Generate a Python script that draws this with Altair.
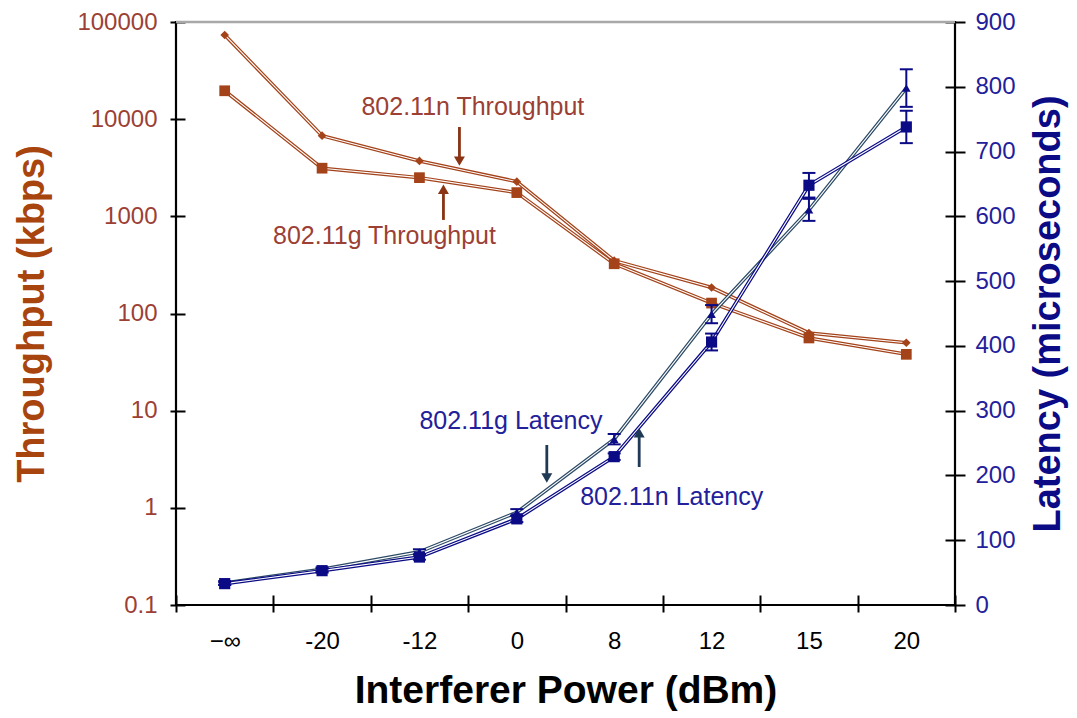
import altair as alt
import pandas as pd

# ---- data ----
categories = ["−∞", "-20", "-12", "0", "8", "12", "15", "20"]
thr_n = [73500, 6760, 3715, 2275, 350, 185, 63, 50]
thr_g = [19600, 3130, 2500, 1755, 325, 128, 56, 38]
lat_g = [34, 55, 82, 143, 256, 449, 610, 798]
lat_g_err = [3, 3, 4, 5, 8, 14, 17, 29]
lat_n = [33, 53, 74, 133, 229, 406, 648, 738]
lat_n_err = [2, 3, 4, 5, 5, 13, 19, 25]

# annotation texts (category, offset, value)
thr_labels = ["802.11n Throughput", "802.11g Throughput"]
thr_label_cat = ["-12", "-20"]
thr_label_dx = [-58, -49]
thr_label_val = [13350, 628]
lat_labels = ["802.11g Latency", "802.11n Latency"]
lat_label_cat = ["-12", "8"]
lat_label_dx = [0, -34]
lat_label_val = [284, 167]

# arrows: category, pixel offset, tail value, head value
thr_arrow_cat = ["-12", "-12"]
thr_arrow_off = [40, 24]
thr_arrow_tail = [8300, 918]
thr_arrow_head = [3700, 1900]
lat_arrow_cat = ["0", "8"]
lat_arrow_off = [30, 25]
lat_arrow_tail = [247, 213]
lat_arrow_head = [196, 266]

W, H = 779, 583
BROWN = "#A4431A"
BROWN_TXT = "#9C3F35"
NAVY = "#0B0B86"
SLATE = "#2C4A66"
NAVY_TXT = "#22209A"

thr_df = pd.DataFrame({
    "cat": categories * 2,
    "thr": thr_n + thr_g,
    "s": ["n"] * 8 + ["g"] * 8,
})
thr_n_df = thr_df[thr_df.s == "n"]
thr_g_df = thr_df[thr_df.s == "g"]

lat_df = pd.DataFrame({
    "cat": categories * 2,
    "lat": lat_g + lat_n,
    "lo": [v - e for v, e in zip(lat_g, lat_g_err)] + [v - e for v, e in zip(lat_n, lat_n_err)],
    "hi": [v + e for v, e in zip(lat_g, lat_g_err)] + [v + e for v, e in zip(lat_n, lat_n_err)],
    "s": ["g"] * 8 + ["n"] * 8,
})
lat_g_df = lat_df[lat_df.s == "g"]
lat_n_df = lat_df[lat_df.s == "n"]

thr_lab_df = pd.DataFrame({"cat": thr_label_cat, "thr": thr_label_val, "t": thr_labels, "dx": thr_label_dx})
lat_lab_df = pd.DataFrame({"cat": lat_label_cat, "lat": lat_label_val, "t": lat_labels, "dx": lat_label_dx})

xscale = alt.Scale(type="band", domain=categories, paddingInner=0, paddingOuter=0)
xaxis = alt.Axis(
    title="Interferer Power (dBm)", titleFontSize=39, titleFontWeight="bold", titleColor="black",
    titlePadding=18, labelFontSize=24, labelColor="black", labelAngle=0, labelPadding=17,
    domain=False, ticks=True, tickBand="extent", tickColor="black", tickWidth=2,
    tickSize=17, offset=-10, grid=False,
)
X = alt.X("cat:N", scale=xscale, axis=xaxis, sort=categories)

yscale_thr = alt.Scale(type="log", domain=[0.1, 100000], nice=False)
yaxis_thr = alt.Axis(
    title="Throughput (kbps)", titleFontSize=38, titleFontWeight="bold", titleColor="#A8450E",
    titlePadding=25, labelFontSize=24, labelColor=BROWN_TXT, labelPadding=13,
    values=[0.1, 1, 10, 100, 1000, 10000, 100000], format="~g",
    domain=False, tickColor="black", tickWidth=2, tickSize=15, offset=-9, grid=False, orient="left",
)
YT = alt.Y("thr:Q", scale=yscale_thr, axis=yaxis_thr)

yscale_lat = alt.Scale(domain=[0, 900], nice=False)
yaxis_lat = alt.Axis(
    title="Latency (microseconds)", titleFontSize=38, titleFontWeight="bold", titleColor=NAVY,
    titleAngle=270, titleBaseline="top", titlePadding=14,
    labelFontSize=24, labelColor=NAVY_TXT, labelPadding=10,
    values=list(range(0, 901, 100)),
    domain=False, tickColor="black", tickWidth=2, tickSize=20, offset=-10, grid=False, orient="right",
)
YL = alt.Y("lat:Q", scale=yscale_lat, axis=yaxis_lat)


def double_line(df, color, yenc):
    base = alt.Chart(df)
    outer = base.mark_line(color=color, strokeWidth=3.6).encode(x=X, y=yenc)
    inner = base.mark_line(color="white", strokeWidth=1.1).encode(x=X, y=yenc)
    return outer, inner


# throughput layers
tn_o, tn_i = double_line(thr_n_df, BROWN, YT)
tg_o, tg_i = double_line(thr_g_df, BROWN, YT)
tn_pts = alt.Chart(thr_n_df).mark_point(shape="diamond", filled=True, size=75, color=BROWN, opacity=1).encode(x=X, y=YT)
tg_pts = alt.Chart(thr_g_df).mark_point(shape="square", filled=True, size=115, color=BROWN, opacity=1).encode(x=X, y=YT)

thr_text_layers = []
for i in range(len(thr_labels)):
    thr_text_layers.append(
        alt.Chart(thr_lab_df.iloc[[i]]).mark_text(
            align="left", baseline="middle", fontSize=25, color=BROWN_TXT, dx=thr_label_dx[i]
        ).encode(x=X, y=YT, text="t:N")
    )

thr_arrow_layers = []
for i in range(len(thr_arrow_cat)):
    adf = pd.DataFrame({"cat": [thr_arrow_cat[i]], "thr": [thr_arrow_tail[i]], "thr2": [thr_arrow_head[i]]})
    thr_arrow_layers.append(
        alt.Chart(adf).mark_rule(color="#8A3414", strokeWidth=2.8, xOffset=thr_arrow_off[i]).encode(
            x=X, y=YT, y2="thr2:Q")
    )
    hdf = pd.DataFrame({"cat": [thr_arrow_cat[i]], "thr": [thr_arrow_head[i]]})
    shape = "triangle-down" if thr_arrow_head[i] < thr_arrow_tail[i] else "triangle-up"
    thr_arrow_layers.append(
        alt.Chart(hdf).mark_point(shape=shape, filled=True, size=120, color="#8A3414", opacity=1,
                                  xOffset=thr_arrow_off[i]).encode(x=X, y=YT)
    )

thr_layer = alt.layer(tn_o, tn_i, tg_o, tg_i, tn_pts, tg_pts, *thr_text_layers, *thr_arrow_layers)

# latency layers
lg_o, lg_i = double_line(lat_g_df, SLATE, YL)
ln_o, ln_i = double_line(lat_n_df, NAVY, YL)
err_rule = alt.Chart(lat_df).mark_rule(color=NAVY, strokeWidth=2).encode(x=X, y=YL, y2="hi:Q")
err_rule2 = alt.Chart(lat_df).mark_rule(color=NAVY, strokeWidth=2).encode(x=X, y=YL, y2="lo:Q")
err_hi = alt.Chart(lat_df).mark_tick(color=NAVY, thickness=2, size=13, opacity=1).encode(
    x=X, y=alt.Y("hi:Q", scale=yscale_lat, axis=yaxis_lat))
err_lo = alt.Chart(lat_df).mark_tick(color=NAVY, thickness=2, size=13, opacity=1).encode(
    x=X, y=alt.Y("lo:Q", scale=yscale_lat, axis=yaxis_lat))
lg_pts = alt.Chart(lat_g_df).mark_point(shape="triangle-up", filled=True, size=75, color=NAVY, opacity=1).encode(x=X, y=YL)
ln_pts = alt.Chart(lat_n_df).mark_point(shape="square", filled=True, size=125, color=NAVY, opacity=1).encode(x=X, y=YL)

lat_text_layers = []
for i in range(len(lat_labels)):
    lat_text_layers.append(
        alt.Chart(lat_lab_df.iloc[[i]]).mark_text(
            align="left", baseline="middle", fontSize=25, color=NAVY_TXT, dx=lat_label_dx[i]
        ).encode(x=X, y=YL, text="t:N")
    )

lat_arrow_layers = []
for i in range(len(lat_arrow_cat)):
    adf = pd.DataFrame({"cat": [lat_arrow_cat[i]], "lat": [lat_arrow_tail[i]], "lat2": [lat_arrow_head[i]]})
    lat_arrow_layers.append(
        alt.Chart(adf).mark_rule(color="#1E3A55", strokeWidth=2.8, xOffset=lat_arrow_off[i]).encode(
            x=X, y=YL, y2="lat2:Q")
    )
    hdf = pd.DataFrame({"cat": [lat_arrow_cat[i]], "lat": [lat_arrow_head[i]]})
    shape = "triangle-down" if lat_arrow_head[i] < lat_arrow_tail[i] else "triangle-up"
    lat_arrow_layers.append(
        alt.Chart(hdf).mark_point(shape=shape, filled=True, size=120, color="#1E3A55", opacity=1,
                                  xOffset=lat_arrow_off[i]).encode(x=X, y=YL)
    )

lat_layer = alt.layer(lg_o, lg_i, ln_o, ln_i, err_rule, err_rule2, err_hi, err_lo, lg_pts, ln_pts,
                      *lat_text_layers, *lat_arrow_layers)

top_line = alt.Chart(pd.DataFrame({"a": [0]})).mark_rule(color="#A8A8A8", strokeWidth=2.5).encode(
    x=alt.value(0), x2=alt.value(W), y=alt.value(0))

chart = alt.layer(thr_layer, lat_layer, top_line).resolve_scale(y="independent").properties(
    width=W, height=H,
    autosize=alt.AutoSizeParams(type="none"),
    padding={"left": 168, "top": 14, "right": 114, "bottom": 110},
    background="white",
).configure(
    font="Liberation Sans",
    view=alt.ViewConfig(stroke="black", strokeWidth=2.2),
)

chart.save("out.html", embed_options={"renderer": "svg", "actions": False})
